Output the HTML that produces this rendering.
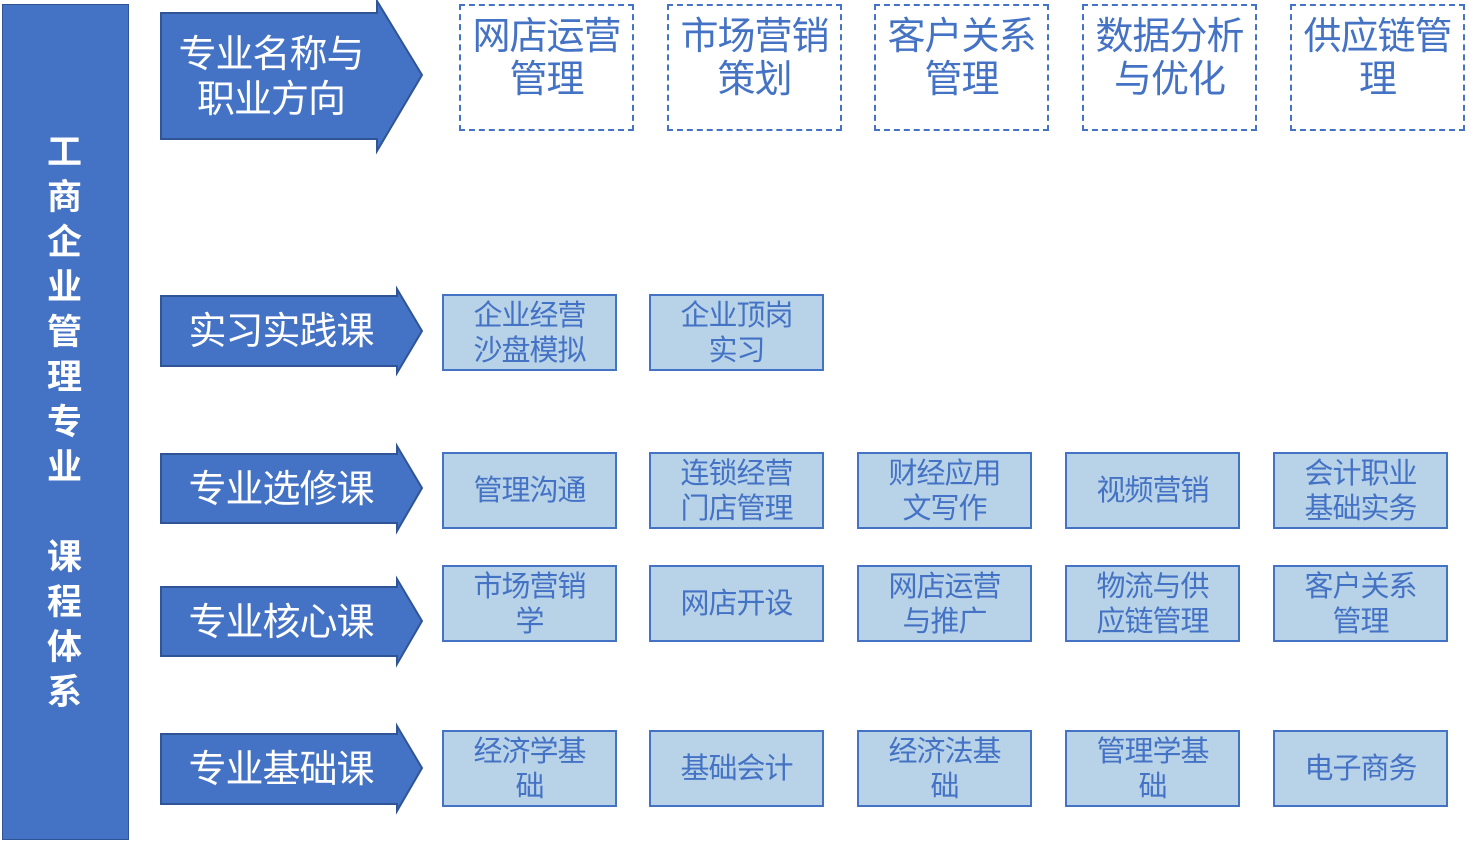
<!DOCTYPE html>
<html><head><meta charset="utf-8"><style>
body{margin:0;width:1475px;height:842px;background:#fff;position:relative;overflow:hidden;font-family:"Liberation Sans","Noto Sans CJK SC",sans-serif}
.bar{position:absolute;left:2px;top:4px;width:125px;height:834px;background:#4472C4;border:1px solid #2F5597}
.vt{position:absolute;left:0;width:129px;top:130px;text-align:center;color:#fff;font-weight:bold;font-size:35px;line-height:45px}
.d{position:absolute;width:175px;height:127px;border:2px dashed #4472C4;box-sizing:border-box;color:#4472C4;font-size:38px;line-height:43px;text-align:center;padding-top:10px;letter-spacing:-1px;white-space:nowrap}
.b{position:absolute;width:175px;height:77px;background:#B8D3E8;border:2px solid #4472C4;box-sizing:border-box;color:#4472C4;font-size:29px;line-height:35px;display:flex;align-items:center;justify-content:center;text-align:center;letter-spacing:-1px;padding-top:2px}
.at{position:absolute;color:#fff;font-size:38px;text-align:center;letter-spacing:-1px}
</style></head><body>
<div class="bar"></div>
<div class="vt">工<br>商<br>企<br>业<br>管<br>理<br>专<br>业<br>&nbsp;<br>课<br>程<br>体<br>系</div>
<svg width="1475" height="842" style="position:absolute;left:0;top:0">
<g fill="#4472C4" stroke="#2F5597" stroke-width="2">
<polygon points="161,13 377,13 377,1 422,75 377,151 377,139 161,139"/>
<polygon points="161,296 397,296 397,289 422,331 397,373 397,366 161,366"/>
<polygon points="161,454 397,454 397,446 422,488 397,531 397,523 161,523"/>
<polygon points="161,587 397,587 397,579 422,621 397,664 397,656 161,656"/>
<polygon points="161,734 397,734 397,726 422,768 397,811 397,804 161,804"/>
</g></svg>
<div class="at" style="left:161px;top:33px;width:220px;line-height:45px">专业名称与<br>职业方向</div>
<div class="at" style="left:161px;top:309px;width:240px;line-height:46px">实习实践课</div>
<div class="at" style="left:161px;top:467px;width:240px;line-height:46px">专业选修课</div>
<div class="at" style="left:161px;top:600px;width:240px;line-height:46px">专业核心课</div>
<div class="at" style="left:161px;top:747px;width:240px;line-height:46px">专业基础课</div>

<div class="d" style="left:459px;top:4px">网店运营<br>管理</div>
<div class="d" style="left:667px;top:4px">市场营销<br>策划</div>
<div class="d" style="left:874px;top:4px">客户关系<br>管理</div>
<div class="d" style="left:1082px;top:4px">数据分析<br>与优化</div>
<div class="d" style="left:1290px;top:4px">供应链管<br>理</div>

<div class="b" style="left:442px;top:294px">企业经营<br>沙盘模拟</div>
<div class="b" style="left:649px;top:294px">企业顶岗<br>实习</div>

<div class="b" style="left:442px;top:452px">管理沟通</div>
<div class="b" style="left:649px;top:452px">连锁经营<br>门店管理</div>
<div class="b" style="left:857px;top:452px">财经应用<br>文写作</div>
<div class="b" style="left:1065px;top:452px">视频营销</div>
<div class="b" style="left:1273px;top:452px">会计职业<br>基础实务</div>

<div class="b" style="left:442px;top:565px">市场营销<br>学</div>
<div class="b" style="left:649px;top:565px">网店开设</div>
<div class="b" style="left:857px;top:565px">网店运营<br>与推广</div>
<div class="b" style="left:1065px;top:565px">物流与供<br>应链管理</div>
<div class="b" style="left:1273px;top:565px">客户关系<br>管理</div>

<div class="b" style="left:442px;top:730px">经济学基<br>础</div>
<div class="b" style="left:649px;top:730px">基础会计</div>
<div class="b" style="left:857px;top:730px">经济法基<br>础</div>
<div class="b" style="left:1065px;top:730px">管理学基<br>础</div>
<div class="b" style="left:1273px;top:730px">电子商务</div>
</body></html>
